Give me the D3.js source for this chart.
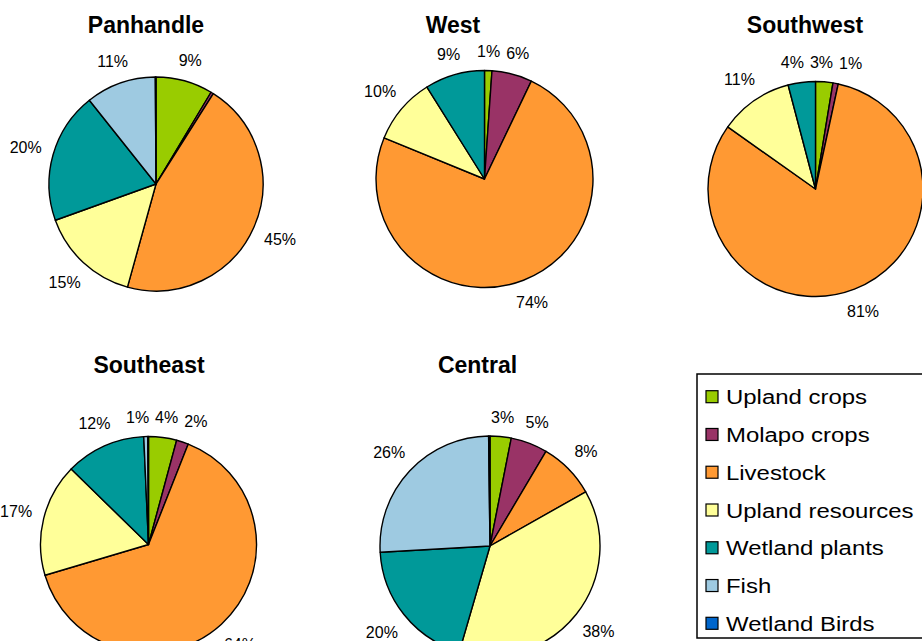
<!DOCTYPE html>
<html>
<head>
<meta charset="utf-8">
<script src="https://cdn.jsdelivr.net/npm/d3@7"></script>
<style>
  html, body { margin: 0; padding: 0; background: #fff; }
  svg { display: block; font-family: "Liberation Sans", Arial, sans-serif; }
</style>
</head>
<body>
<svg id="chart" width="922" height="641"></svg>
<script>
// Livelihood categories, in slice order (clockwise from 12 o'clock)
const categories = ["Upland crops", "Molapo crops", "Livestock", "Upland resources",
                    "Wetland plants", "Fish", "Wetland Birds"];
const colors = ["#99CC00", "#993366", "#FF9933", "#FFFF99", "#009999", "#9ECAE1", "#0066CC"];

// Share of household income by region (%)
const regions   = ["Panhandle", "West", "Southwest", "Southeast", "Central"];
const panhandle = [8.6, 0.4, 45.3, 15.2, 19.8, 10.6, 0.1];
const west      = [1.1, 6.0, 74.1, 9.9, 8.9, 0, 0];
const southwest = [2.6, 0.8, 81.4, 11.1, 4.1, 0, 0];
const southeast = [4.2, 1.8, 64.4, 16.9, 12.0, 0.6, 0.1];
const central   = [3.1, 5.4, 8.3, 37.7, 19.6, 25.7, 0.2];
const regionValues = [panhandle, west, southwest, southeast, central];

// Placement of each small pie on the page
const panels = [
  { cx: 156,   cy: 184,   r: 107,   tx: 146,   ty: 33 },
  { cx: 484.5, cy: 179,   r: 108.5, tx: 453,   ty: 33 },
  { cx: 815.5, cy: 189,   r: 107.5, tx: 805,   ty: 33 },
  { cx: 148.5, cy: 544.5, r: 108,   tx: 149,   ty: 372.7 },
  { cx: 490,   cy: 546,   r: 110,   tx: 477.5, ty: 372.7 }
];

const svg = d3.select("#chart");
const color = d3.scaleOrdinal().domain(categories).range(colors);
const pie = d3.pie().sort(null).value(d => d.value);

regions.forEach((name, i) => {
  const p = panels[i];
  const vals = regionValues[i];
  const total = d3.sum(vals);
  const data = categories.map((c, k) => ({ cat: c, value: vals[k] }));
  const arcs = pie(data);
  const arc = d3.arc().innerRadius(0).outerRadius(p.r);

  svg.append("text")
    .attr("x", p.tx).attr("y", p.ty)
    .attr("text-anchor", "middle")
    .attr("font-size", 23).attr("font-weight", "bold")
    .attr("fill", "#000")
    .text(name);

  const g = svg.append("g").attr("transform", `translate(${p.cx},${p.cy})`);

  g.selectAll("path")
    .data(arcs.filter(a => a.value > 0))
    .join("path")
    .attr("d", arc)
    .attr("fill", d => color(d.data.cat))
    .attr("stroke", "#000")
    .attr("stroke-width", 1.4)
    .attr("stroke-linejoin", "round");

  // percentage labels just outside the rim
  const labelled = arcs.filter(a => Math.round(a.value / total * 100) >= 1);
  const labels = g.selectAll("text.pct")
    .data(labelled)
    .join("text")
    .attr("class", "pct")
    .attr("text-anchor", "middle")
    .attr("dy", "0.35em")
    .attr("font-size", 16)
    .attr("fill", "#000")
    .text(d => Math.round(d.value / total * 100) + "%");

  const pad = 11, h = 15, gap = 6;
  const boxes = [];
  labels.each(function (d) {
    const w = this.getComputedTextLength();
    const a = (d.startAngle + d.endAngle) / 2;
    const s = Math.sin(a), c = -Math.cos(a);
    const dist = p.r + pad + Math.abs(s) * w / 2 + Math.abs(c) * h / 2;
    let ang = a * 180 / Math.PI;
    if (ang > 180) ang -= 360;
    boxes.push({ node: this, x: s * dist, y: c * dist, w, ang });
  });

  // spread labels that collide across the top of the pie
  const top = boxes.filter(b => b.y < 0).sort((a, b) => a.ang - b.ang);
  for (let it = 0; it < 30; it++) {
    for (let k = 1; k < top.length; k++) {
      const A = top[k - 1], B = top[k];
      if (Math.abs(A.y - B.y) > h) continue;
      const over = (A.x + A.w / 2 + gap) - (B.x - B.w / 2);
      if (over > 0) { A.x -= over / 2; B.x += over / 2; }
    }
  }
  boxes.forEach(b => d3.select(b.node).attr("x", b.x).attr("y", b.y));
});

// Legend
const legend = svg.append("g");
legend.append("rect")
  .attr("x", 697).attr("y", 374)
  .attr("width", 240).attr("height", 264)
  .attr("fill", "#fff").attr("stroke", "#000").attr("stroke-width", 1.5);

const rowY = d3.scalePoint().domain(categories).range([396.7, 623.3]);
const items = legend.selectAll("g.item")
  .data(categories)
  .join("g")
  .attr("class", "item")
  .attr("transform", d => `translate(706,${rowY(d)})`);

items.append("rect")
  .attr("x", 0).attr("y", -6)
  .attr("width", 12).attr("height", 12)
  .attr("fill", d => color(d))
  .attr("stroke", "#000").attr("stroke-width", 1.2);

items.append("text")
  .attr("transform", "translate(20,0) scale(1.14,1)")
  .attr("dy", "0.36em")
  .attr("font-size", 21)
  .attr("fill", "#000")
  .text(d => d);
</script>
</body>
</html>
